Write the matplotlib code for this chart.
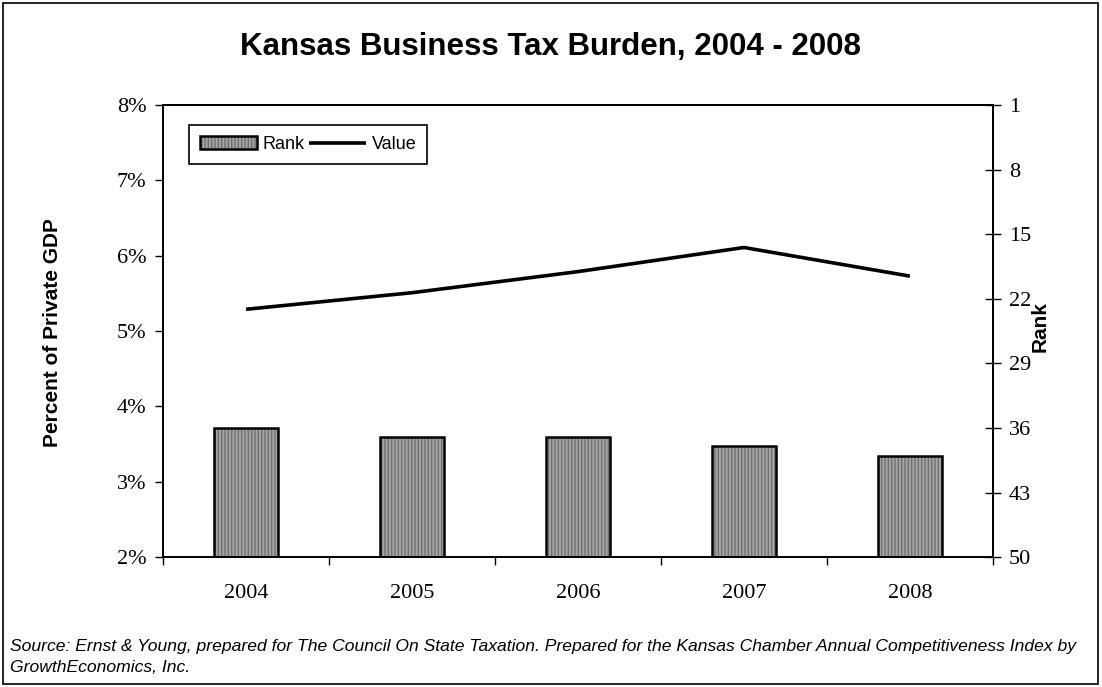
import matplotlib.pyplot as plt
from matplotlib.patches import Rectangle
from matplotlib.ticker import FuncFormatter

years = ['2004', '2005', '2006', '2007', '2008']
tax_share = [5.29, 5.51, 5.79, 6.11, 5.73]   # percent of private GDP
state_rank = [36, 37, 37, 38, 39]            # rank among the states
rank_ticks = [1, 8, 15, 22, 29, 36, 43, 50]

sans = 'Liberation Sans'
serif = 'Liberation Serif'

fig = plt.figure(figsize=(11.02, 6.87), dpi=100)
ax = fig.add_axes([0.148, 0.189, 0.753, 0.658])
ax2 = ax.twinx()
# line axis on top of the bar axis
ax.set_zorder(ax2.get_zorder() + 1)
ax.patch.set_visible(False)

x = list(range(len(years)))

# bars hang from rank 50 up to the state's rank
fill = ax2.bar(x, [r - 50 for r in state_rank], bottom=50, width=0.39,
               color='#a6a6a6', edgecolor='#6e6e6e', hatch='|||||', linewidth=0)
edge = ax2.bar(x, [r - 50 for r in state_rank], bottom=50, width=0.39,
               fill=False, edgecolor='black', linewidth=1.8)
line, = ax.plot(x, tax_share, color='black', linewidth=2.6, solid_capstyle='butt')

ax.set_xlim(-0.5, len(years) - 0.5)
ax.set_ylim(2, 8)
ax2.set_ylim(50, 1)

ax.set_yticks(range(2, 9))
ax.yaxis.set_major_formatter(FuncFormatter(lambda v, p: f'{v:.0f}%'))
ax2.set_yticks(rank_ticks)

ax.set_xticks(x)
ax.set_xticklabels(years)
ax.set_xticks([i - 0.5 for i in range(len(years) + 1)], minor=True)
ax.tick_params(axis='x', which='major', length=0, pad=19)
ax.tick_params(axis='x', which='minor', length=6, width=1, direction='out')
ax.tick_params(axis='y', length=6, width=1, direction='out', pad=6)
ax2.tick_params(axis='y', length=11, width=1, direction='inout', pad=6)

for lab in ax.get_xticklabels() + ax.get_yticklabels() + ax2.get_yticklabels():
    lab.set_fontfamily(serif)
    lab.set_fontsize(16)

for a in (ax, ax2):
    for s in a.spines.values():
        s.set_linewidth(1.3)

ax.set_ylabel('Percent of Private GDP', fontfamily=sans, fontweight='bold',
              fontsize=15, va='center')
ax.yaxis.set_label_coords(-0.133, 0.496)
ax2.set_ylabel('Rank', fontfamily=sans, fontweight='bold', fontsize=15,
               va='center')
ax2.yaxis.set_label_coords(1.057, 0.51)

leg = ax.legend([(fill, edge), line], ['Rank', 'Value'], ncol=2,
                loc='upper left', bbox_to_anchor=(0.031, 0.956),
                borderaxespad=0, prop={'family': sans, 'size': 13},
                fancybox=False, edgecolor='black', framealpha=1,
                borderpad=0.6, handlelength=3.2, handletextpad=0.3,
                columnspacing=0.2)
leg.get_frame().set_linewidth(1.2)

fig.text(0.5, 0.931, 'Kansas Business Tax Burden, 2004 - 2008', ha='center',
         va='center', fontfamily=sans, fontweight='bold', fontsize=22.5)

source = ('Source: Ernst & Young, prepared for The Council On State Taxation. '
          'Prepared for the Kansas Chamber Annual Competitiveness Index by\n'
          'GrowthEconomics, Inc.')
fig.text(0.009, 0.044, source, ha='left', va='center', fontfamily=sans,
         style='italic', fontsize=12.6, linespacing=1.5)

# thin frame round the whole chart
fig.patches.append(Rectangle((0.003, 0.005), 0.993, 0.99, transform=fig.transFigure,
                             fill=False, edgecolor='black', linewidth=1.2))

fig.savefig('out.png', dpi=100)
